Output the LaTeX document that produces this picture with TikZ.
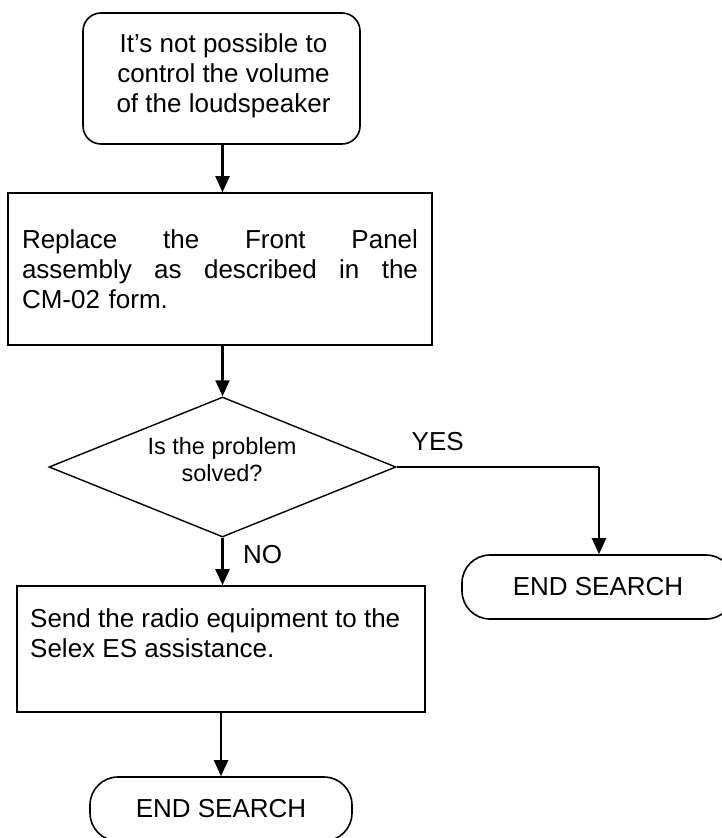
\documentclass[tikz,border=0pt]{standalone}
\usepackage{fontspec}
\setmainfont{Liberation Sans}
\usetikzlibrary{arrows.meta,shapes.geometric}

\begin{document}
\begin{tikzpicture}[x=1pt,y=-1pt,
  box/.style={draw, line width=1.6pt, inner sep=0pt, fill=white},
  terminal/.style={box, rounded corners=28pt, minimum height=64pt},
  flow/.style={line width=2.2pt, -{Triangle[length=16pt,width=14pt]}},
  link/.style={line width=2.2pt},
  bodytext/.style={inner sep=0pt, font=\fontsize{26pt}{30pt}\selectfont},
  smalltext/.style={inner sep=0pt, font=\fontsize{23.5pt}{27pt}\selectfont},
]
\fill[white] (0,0) rectangle (721,838);
\useasboundingbox (0,0) rectangle (721,838);

% start box
\node[box, rounded corners=18pt, minimum width=277pt, minimum height=131pt]
  (start) at (221.5,78.5) {};
\node[bodytext, align=center] (starttext) at (223.5,75.5)
  {It’s not possible to\\control the volume\\of the loudspeaker};

% replacement step (first two lines justified)
\node[box, minimum width=424pt, minimum height=152pt, bodytext, text width=396pt, align=left]
  (replace) at (220,269)
  {\makebox[396pt][l]{Replace\hfill the\hfill Front\hfill Panel}\\
   \makebox[396pt][l]{assembly\hfill as\hfill described\hfill in\hfill the}\\
   CM-02 form.};

% decision
\node[diamond, draw, line width=1.4pt, shape aspect=2.48, inner sep=0pt,
      minimum width=347pt, minimum height=140pt] (dec) at (222.5,467) {};
\node[smalltext, align=center] (dectext) at (222,460) {Is the problem\\solved?};

% send to assistance
\node[box, minimum width=408pt, minimum height=126pt] (send) at (221,649) {};
\node[bodytext, anchor=north west, align=left] (sendtext) at (30,608.5)
  {Send the radio equipment to the\\Selex ES assistance.};

% end points
\node[terminal, minimum width=272pt, bodytext] (endR) at (598,587) {END SEARCH};
\node[terminal, minimum width=262pt, bodytext] (endB) at (221,809) {END SEARCH};

% branch labels
\node[bodytext, anchor=base west] (yes) at (411.5,450) {YES};
\node[bodytext, anchor=base west] (no) at (243,563) {NO};

% connectors
\coordinate (yesturn) at (599,467);
\draw[flow] (start.south -| dec.north) -- (replace.north -| dec.north);
\draw[flow] (replace.south -| dec.north) -- (dec.north);
\draw[flow] (dec.south) -- (send.north -| dec.south);
\draw[link] (dec.east) -- (yesturn);
\draw[flow] (yesturn) -- (endR.north -| yesturn);
\draw[flow] (send.south -| endB.north) -- (endB.north);
\end{tikzpicture}
\end{document}
